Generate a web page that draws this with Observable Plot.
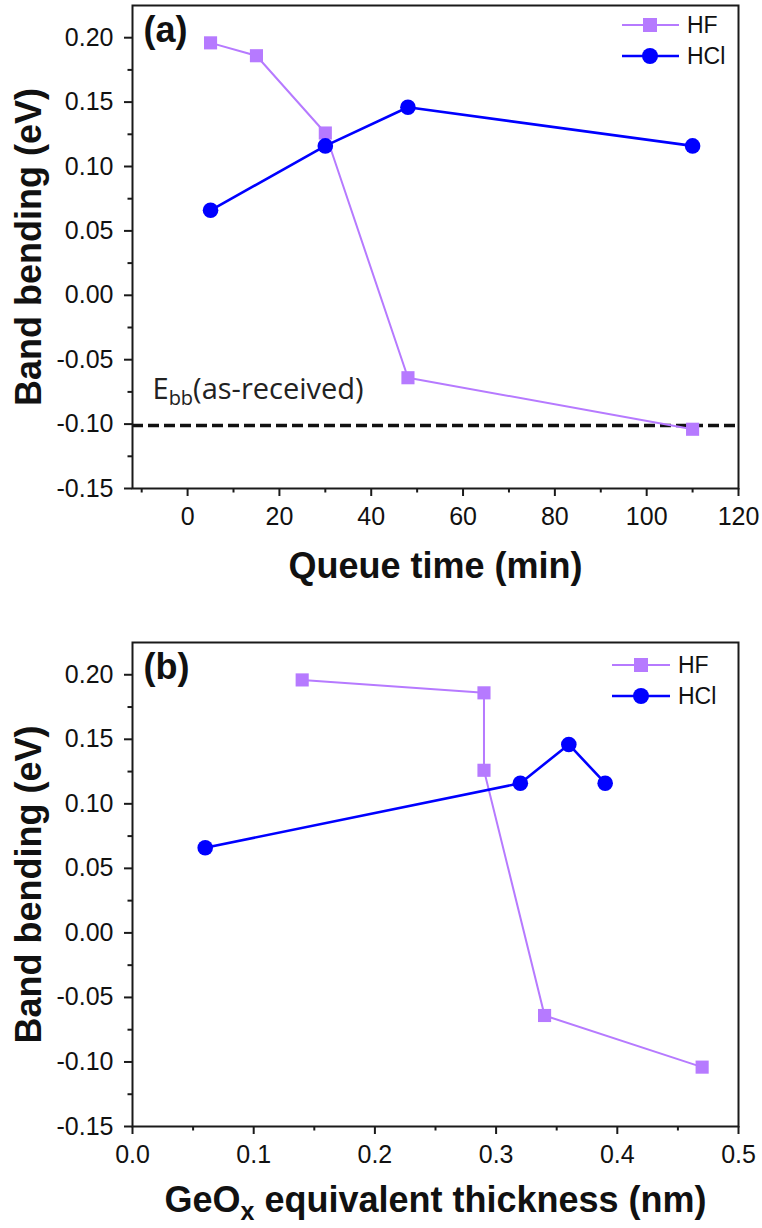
<!DOCTYPE html>
<html>
<head>
<meta charset="utf-8">
<script src="https://cdn.jsdelivr.net/npm/d3@7"></script>
<script src="https://cdn.jsdelivr.net/npm/@observablehq/plot@0.6"></script>
<style>
  body { margin: 0; background: #fff; }
  #chart svg { display: block; }
</style>
</head>
<body>
<div id="chart"></div>
<script>
// ---------- data ----------
const series = ["HF", "HCl"];
const seriesColors = ["#b67aff", "#0000ff"];

// panel (a): band bending vs queue time (min)
const queueHF_x = [5, 15, 30, 48, 110];
const queueHF_y = [0.196, 0.186, 0.126, -0.064, -0.104];
const queueHCl_x = [5, 30, 48, 110];
const queueHCl_y = [0.066, 0.116, 0.146, 0.116];

// panel (b): band bending vs GeOx equivalent thickness (nm)
const thickHF_x = [0.14, 0.29, 0.29, 0.34, 0.47];
const thickHF_y = [0.196, 0.186, 0.126, -0.064, -0.104];
const thickHCl_x = [0.06, 0.32, 0.36, 0.39];
const thickHCl_y = [0.066, 0.116, 0.146, 0.116];

// reference level E_bb (as-received)
const asReceived = [-0.101];
const asReceivedLabel = "Ebb(as-received)";

// axes
const yTicks = [-0.15, -0.10, -0.05, 0, 0.05, 0.10, 0.15, 0.20];
const yMinor = [-0.125, -0.075, -0.025, 0.025, 0.075, 0.125, 0.175];
const xTicksA = [0, 20, 40, 60, 80, 100, 120];
const xMinorA = [-10, 10, 30, 50, 70, 90, 110];
const xTicksB = [0, 0.1, 0.2, 0.3, 0.4, 0.5];
const xMinorB = [0.05, 0.15, 0.25, 0.35, 0.45];
const yTitle = "Band bending (eV)";
const xTitleA = "Queue time (min)";
const xTitleB = "GeOx equivalent thickness (nm)";

// ---------- helpers ----------
const zip = (xs, ys) => xs.map((x, i) => ({x, y: ys[i]}));
const FONT = "'Liberation Sans', Arial, Helvetica, sans-serif";
const AXIS = "#1a1a1a";

function subscript(svg, full, before, sub, after, subSize, shift) {
  d3.select(svg).selectAll("text")
    .filter(function () { return this.textContent === full; })
    .each(function () {
      const t = d3.select(this);
      t.text(null);
      t.append("tspan").text(before);
      t.append("tspan").text(sub).attr("font-size", subSize).attr("dy", shift);
      t.append("tspan").text(after).attr("dy", -shift);
    });
}

function drawLegend(svg, cfg) {
  const g = d3.select(svg).append("g").attr("font-family", FONT).attr("text-anchor", "start");
  const xr = 762 - cfg.mr;
  series.forEach((name, i) => {
    const y = cfg.mt + cfg.legTop + i * 31;
    g.append("line")
      .attr("x1", xr - cfg.legL1).attr("x2", xr - cfg.legL2)
      .attr("y1", y).attr("y2", y)
      .attr("stroke", seriesColors[i]).attr("stroke-width", i === 0 ? 2 : 2.6);
    const cx = xr - cfg.legM;
    if (i === 0) {
      g.append("rect").attr("x", cx - 7).attr("y", y - 7).attr("width", 14).attr("height", 14)
        .attr("fill", seriesColors[i]);
    } else {
      g.append("circle").attr("cx", cx).attr("cy", y).attr("r", 8).attr("fill", seriesColors[i]);
    }
    g.append("text").attr("x", xr - cfg.legT).attr("y", y).attr("dy", "0.35em")
      .attr("text-anchor", "start")
      .attr("font-size", 23).attr("fill", "#111").text(name);
  });
}

function panel(cfg) {
  const svg = Plot.plot({
    width: 762,
    height: cfg.height,
    marginLeft: 132,
    marginRight: cfg.mr,
    marginTop: cfg.mt,
    marginBottom: cfg.mb,
    x: {domain: cfg.xDomain},
    y: {domain: [-0.15, 0.225]},
    style: {fontFamily: FONT, color: "#111", background: "#fff", overflow: "visible"},
    marks: [
      ...(cfg.extra || []),
      Plot.line(cfg.hf, {x: "x", y: "y", stroke: seriesColors[0], strokeWidth: 2}),
      Plot.dot(cfg.hf, {x: "x", y: "y", fill: seriesColors[0], symbol: "square", r: 7.4}),
      Plot.line(cfg.hcl, {x: "x", y: "y", stroke: seriesColors[1], strokeWidth: 2.6}),
      Plot.dot(cfg.hcl, {x: "x", y: "y", fill: seriesColors[1], symbol: "circle", r: 7.8}),
      Plot.frame({stroke: AXIS, strokeWidth: 2}),
      Plot.axisY(yTicks, {tickSize: 8, tickPadding: 11, tickFormat: d => d.toFixed(2), fontSize: 25, stroke: AXIS, strokeWidth: 2, label: null}),
      Plot.axisY(yMinor, {tickSize: 4.5, tickFormat: () => "", stroke: AXIS, strokeWidth: 2, label: null}),
      Plot.axisX(cfg.xTicks, {tickSize: 8, tickPadding: 11, tickFormat: cfg.fmtX, fontSize: 25, stroke: AXIS, strokeWidth: 2, label: null}),
      Plot.axisX(cfg.xMinor, {tickSize: 4.5, tickFormat: () => "", stroke: AXIS, strokeWidth: 2, label: null}),
      Plot.text([yTitle], {text: d => d, frameAnchor: "left", dx: -103.5, rotate: -90, textAnchor: "middle", lineAnchor: "middle", fontSize: 36, fontWeight: "bold", fill: "#111"}),
      Plot.text([cfg.xTitle], {text: d => d, frameAnchor: "bottom", dy: cfg.xTitleDy, textAnchor: "middle", lineAnchor: "middle", fontSize: 36, fontWeight: "bold", fill: "#111"}),
      Plot.text([cfg.tag], {text: d => d, frameAnchor: "top-left", dx: 11, dy: 24.5, textAnchor: "start", lineAnchor: "middle", fontSize: 36, fontWeight: "bold", fill: "#111"})
    ]
  });
  drawLegend(svg, cfg);
  return svg;
}

const svgA = panel({
  height: 610, mt: 5, mb: 122, mr: 24,
  xDomain: [-12, 120], xTicks: xTicksA, xMinor: xMinorA, fmtX: d => String(d),
  hf: zip(queueHF_x, queueHF_y), hcl: zip(queueHCl_x, queueHCl_y),
  xTitle: xTitleA, xTitleDy: 78, tag: "(a)",
  legTop: 20, legL1: 116, legL2: 59, legM: 88, legT: 51,
  extra: [
    Plot.ruleY(asReceived, {stroke: "#111", strokeWidth: 3.5, strokeDasharray: "11,5"}),
    Plot.text(asReceived, {y: d => d, text: () => asReceivedLabel, frameAnchor: "left", dx: 20, dy: -36, textAnchor: "start", lineAnchor: "middle",
      fontFamily: "'Open Sans', sans-serif", fontSize: 29, fill: "#222"})
  ]
});
subscript(svgA, asReceivedLabel, "E", "bb", "(as-received)", 20, 6);

const svgB = panel({
  height: 618, mt: 32, mb: 102, mr: 24,
  xDomain: [0, 0.5], xTicks: xTicksB, xMinor: xMinorB, fmtX: d => d.toFixed(1),
  hf: zip(thickHF_x, thickHF_y), hcl: zip(thickHCl_x, thickHCl_y),
  xTitle: xTitleB, xTitleDy: 74, tag: "(b)",
  legTop: 23, legL1: 126, legL2: 68, legM: 97, legT: 60
});
subscript(svgB, xTitleB, "GeO", "x", " equivalent thickness (nm)", 25, 8);

document.getElementById("chart").append(svgA, svgB);
</script>
</body>
</html>
